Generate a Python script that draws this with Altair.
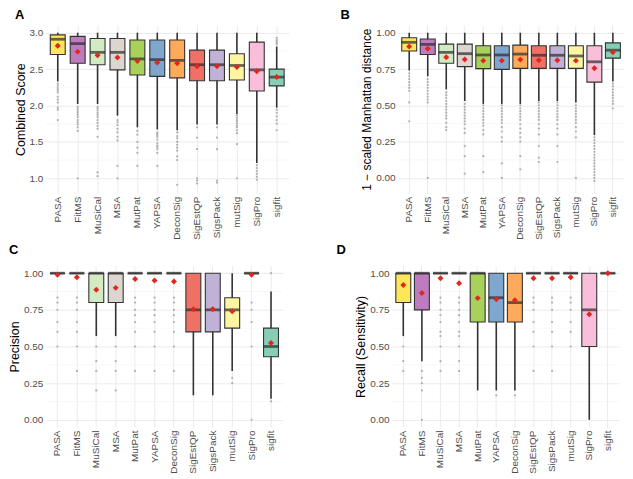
import altair as alt
import pandas as pd

tools = ["PASA", "FitMS", "MuSiCal", "MSA", "MutPat", "YAPSA", "DeconSig",
         "SigEstQP", "SigsPack", "mutSig", "SigPro", "sigfit"]
box_colors = ["#FDE65A", "#BE7BBD", "#D3EBC2", "#DDD5CF", "#A8D15B", "#7FA6CC",
              "#FDAA5B", "#EF7166", "#C0B1D6", "#FDF59F", "#F9BED9", "#86CFB5"]

# ---- Panel A: Combined Score ----
a_low = [2.33, 2.02, 2.02, 1.86, 1.70, 1.67, 1.66, 1.74, 1.74, 1.88, 1.21, 1.97]
a_q1 = [2.70, 2.58, 2.56, 2.49, 2.42, 2.40, 2.38, 2.34, 2.34, 2.35, 2.20, 2.27]
a_med = [2.91, 2.85, 2.73, 2.73, 2.64, 2.63, 2.62, 2.56, 2.56, 2.55, 2.49, 2.39]
a_q3 = [2.97, 2.95, 2.92, 2.92, 2.90, 2.90, 2.90, 2.76, 2.76, 2.71, 2.87, 2.50]
a_high = [3.0, 3.0, 3.0, 3.0, 3.0, 3.0, 3.0, 3.0, 3.0, 3.0, 3.0, 2.81]
a_mean = [2.82, 2.74, 2.69, 2.66, 2.61, 2.59, 2.58, 2.54, 2.54, 2.53, 2.47, 2.39]
a_out = [
    [2.30, 2.27, 2.24, 2.21, 2.18, 2.12, 2.08, 2.04, 1.97, 1.94, 1.80],
    [1.98, 1.95, 1.92, 1.90, 1.87, 1.84, 1.80, 1.77, 1.74, 1.70, 1.65, 1.00],
    [1.98, 1.96, 1.93, 1.90, 1.87, 1.84, 1.80, 1.76, 1.72, 1.68, 1.57, 1.08, 1.03],
    [1.80, 1.77, 1.73, 1.68, 1.63, 1.57, 1.52, 1.17, 1.00],
    [1.65, 1.60, 1.50, 1.42, 1.35, 1.17],
    [1.63, 1.61, 1.59, 1.57, 1.53, 1.48, 1.45, 1.43, 1.40, 1.35, 1.17],
    [1.63, 1.58, 1.55, 1.50, 1.46, 1.42, 1.38, 1.30, 1.25, 0.91],
    [1.70, 1.56, 1.40, 1.00, 0.97, 0.93],
    [1.70, 1.56, 1.40, 0.97, 0.94],
    [1.86, 1.83, 1.80, 1.78, 1.75, 1.72, 1.70, 1.66, 1.62, 1.47, 1.00],
    [1.18, 1.14, 1.10, 1.06, 1.02, 0.98],
    [2.93, 2.90, 2.88, 2.86, 2.84, 1.94, 1.90, 1.85, 1.80, 1.75, 1.66],
]

# ---- Panel B: 1 - scaled Manhattan distance ----
b_low = [0.74, 0.70, 0.61, 0.53, 0.51, 0.51, 0.51, 0.53, 0.53, 0.52, 0.295, 0.665]
b_q1 = [0.874, 0.85, 0.79, 0.767, 0.753, 0.748, 0.755, 0.755, 0.755, 0.755, 0.66, 0.825]
b_med = [0.934, 0.92, 0.865, 0.856, 0.847, 0.847, 0.853, 0.845, 0.845, 0.84, 0.80, 0.88]
b_q3 = [0.966, 0.957, 0.922, 0.922, 0.91, 0.91, 0.915, 0.91, 0.91, 0.91, 0.91, 0.93]
b_high = [1.0] * 12
b_mean = [0.905, 0.89, 0.832, 0.816, 0.808, 0.808, 0.815, 0.81, 0.81, 0.808, 0.755, 0.865]
b_out = [
    [0.72, 0.70, 0.68, 0.66, 0.64, 0.62, 0.60, 0.52, 0.39],
    [0.68, 0.66, 0.64, 0.62, 0.60, 0.58, 0.56, 0.54, 0.52, 0.00],
    [0.59, 0.57, 0.55, 0.53, 0.51, 0.49, 0.47, 0.45, 0.43, 0.41, 0.38, 0.35, 0.33],
    [0.51, 0.49, 0.47, 0.45, 0.43, 0.41, 0.39, 0.37, 0.34, 0.31, 0.22, 0.15, 0.03],
    [0.50, 0.48, 0.46, 0.44, 0.42, 0.40, 0.38, 0.36, 0.33, 0.30, 0.15, 0.04],
    [0.50, 0.48, 0.46, 0.44, 0.42, 0.40, 0.38, 0.35, 0.32, 0.28, 0.25, 0.10, 0.00],
    [0.50, 0.48, 0.46, 0.44, 0.42, 0.40, 0.37, 0.34, 0.31, 0.28, 0.25, 0.15, 0.06],
    [0.52, 0.50, 0.48, 0.46, 0.44, 0.42, 0.40, 0.37, 0.34, 0.30, 0.22, 0.14, 0.11],
    [0.52, 0.50, 0.48, 0.46, 0.44, 0.42, 0.40, 0.37, 0.34, 0.30, 0.22, 0.11],
    [0.50, 0.48, 0.46, 0.44, 0.42, 0.40, 0.38, 0.35, 0.32, 0.28, 0.00],
    [0.28, 0.26, 0.24, 0.22, 0.20, 0.18, 0.16, 0.14, 0.12, 0.10, 0.08, 0.06,
     0.04, 0.02, 0.00, -0.02],
    [0.65, 0.63, 0.61, 0.59, 0.57, 0.55, 0.53, 0.51, 0.48],
]

# ---- Panel C: Precision ----
c_low = [1, 1, 0.571, 0.571, 1, 1, 1, 0.167, 0.167, 0.333, 1, 0.143]
c_q1 = [1, 1, 0.8, 0.8, 1, 1, 1, 0.6, 0.6, 0.625, 1, 0.43]
c_med = [1, 1, 1, 1, 1, 1, 1, 0.75, 0.75, 0.75, 1, 0.5]
c_q3 = [1, 1, 1, 1, 1, 1, 1, 1, 1, 0.833, 1, 0.625]
c_high = [1, 1, 1, 1, 1, 1, 1, 1, 1, 1, 1, 0.875]
c_mean = [0.99, 0.973, 0.887, 0.90, 0.96, 0.95, 0.944, 0.755, 0.755, 0.74, 0.99, 0.524]
c_out = [
    [0.833, 0.8, 0.75, 0.667, 0.6, 0.5],
    [0.833, 0.8, 0.75, 0.667, 0.6, 0.5, 0.333],
    [0.5, 0.4, 0.333, 0.2],
    [0.5, 0.4, 0.333, 0.2],
    [0.833, 0.8, 0.75, 0.714, 0.667, 0.6, 0.5, 0.333],
    [0.833, 0.8, 0.75, 0.714, 0.667, 0.6, 0.5, 0.333],
    [0.833, 0.8, 0.75, 0.714, 0.667, 0.6, 0.5, 0.333],
    [],
    [],
    [0.286, 0.25],
    [0.8, 0.75, 0.667, 0.5, 0.0],
    [1.0, 0.125],
]

# ---- Panel D: Recall (Sensitivity) ----
d_low = [0.571, 0.40, 1, 1, 0.2, 0.2, 0.2, 1, 1, 1, 0.0, 1]
d_q1 = [0.8, 0.75, 1, 1, 0.667, 0.667, 0.667, 1, 1, 1, 0.5, 1]
d_med = [1, 1, 1, 1, 1, 0.833, 0.8, 1, 1, 1, 0.75, 1]
d_q3 = [1] * 12
d_high = [1] * 12
d_mean = [0.92, 0.865, 0.966, 0.932, 0.83, 0.823, 0.815, 0.966, 0.966, 0.973, 0.72, 1.0]
d_out = [
    [0.5, 0.4, 0.333],
    [0.333, 0.286, 0.25, 0.2, 0.0],
    [0.833, 0.8, 0.75, 0.714, 0.667, 0.6, 0.571, 0.5, 0.4, 0.333],
    [0.833, 0.8, 0.75, 0.714, 0.667, 0.6, 0.571, 0.5, 0.4, 0.333],
    [],
    [0.167],
    [0.167],
    [0.833, 0.8, 0.75, 0.667, 0.6, 0.5, 0.333],
    [0.833, 0.8, 0.75, 0.667, 0.6, 0.5, 0.333],
    [0.833, 0.8, 0.75, 0.667, 0.6, 0.5],
    [],
    [],
]

FONT = "Liberation Sans"


def panel(letter, title, tsize, domain, major, minor, fmt, low, q1, med, q3, high,
          mean, outs, width, height, lx, ly):
    stats = pd.DataFrame({"tool": tools, "low": low, "q1": q1, "med": med,
                          "q3": q3, "high": high, "mean": mean})
    outdf = pd.DataFrame([{"tool": t, "v": v}
                          for t, vals in zip(tools, outs) for v in vals])
    minor_df = pd.DataFrame({"v": minor})

    xscale = alt.Scale(domain=tools, paddingInner=0, paddingOuter=0.1)
    xaxis = alt.Axis(title=None, labelAngle=-90, grid=True, bandPosition=0.5,
                     ticks=False, domain=False, labelFontSize=10,
                     labelColor="#4D4D4D", labelPadding=3, gridColor="#EBEBEB",
                     labelFont=FONT, labelOverlap=False)
    yscale = alt.Scale(domain=domain, nice=False, zero=False)
    yaxis = alt.Axis(title=title, values=major, tickCount=len(major), format=fmt,
                     grid=True, gridColor="#EBEBEB", ticks=False, domain=False,
                     labelFontSize=10, labelColor="#4D4D4D", labelFont=FONT,
                     titleFontSize=tsize, titleFontWeight="normal",
                     titleColor="#000000", titleFont=FONT, labelPadding=3,
                     titlePadding=2, labelOverlap=False, labelSeparation=0)
    x = alt.X("tool:N", sort=tools, scale=xscale, axis=xaxis)

    minor_layer = alt.Chart(minor_df).mark_rule(
        color="#F3F3F3", strokeWidth=0.6).encode(
        y=alt.Y("v:Q", scale=yscale, axis=yaxis))
    base = alt.Chart(stats)
    whisk = base.mark_rule(color="#333333", strokeWidth=1.6).encode(
        x=x, y=alt.Y("low:Q", scale=yscale), y2="high:Q")
    box = base.mark_bar(size=15, stroke="#333333", strokeWidth=1.1).encode(
        x=x, y=alt.Y("q1:Q", scale=yscale), y2="q3:Q",
        color=alt.Color("tool:N", scale=alt.Scale(domain=tools, range=box_colors),
                        legend=None))
    medt = base.mark_tick(size=15, thickness=2.8, color="#2B2B2B").encode(
        x=x, y=alt.Y("med:Q", scale=yscale))
    outl = alt.Chart(outdf).mark_circle(size=5, color="#A8A8A8", opacity=0.9).encode(
        x=x, y=alt.Y("v:Q", scale=yscale))
    meanp = base.mark_point(shape="diamond", filled=True, size=36,
                            color="#E0261E", opacity=1).encode(
        x=x, y=alt.Y("mean:Q", scale=yscale))
    tag = alt.Chart(pd.DataFrame({"t": [letter]})).mark_text(
        align="left", baseline="top", fontSize=13, fontWeight="bold", font=FONT,
        color="#000000").encode(text="t:N", x=alt.value(lx), y=alt.value(ly))
    return alt.layer(minor_layer, whisk, box, medt, outl, meanp, tag).properties(
        width=width, height=height)


pA = panel("A", "Combined Score", 12.5, [0.795, 3.105], [1.0, 1.5, 2.0, 2.5, 3.0],
           [1.25, 1.75, 2.25, 2.75], ".1f",
           a_low, a_q1, a_med, a_q3, a_high, a_mean, a_out, 244, 169, -31, -16)
pB = panel("B", "1 \u2212 scaled Manhattan distance", 12, [-0.105, 1.053],
           [0, 0.25, 0.5, 0.75, 1.0], [0.125, 0.375, 0.625, 0.875], ".2f",
           b_low, b_q1, b_med, b_q3, b_high, b_mean, b_out, 227, 169, -58, -16)
pC = panel("C", "Precision", 12.5, [-0.05, 1.05], [0, 0.25, 0.5, 0.75, 1.0],
           [0.125, 0.375, 0.625, 0.875], ".2f",
           c_low, c_q1, c_med, c_q3, c_high, c_mean, c_out, 238, 162, -37, -22)
pD = panel("D", "Recall (Sensitivity)", 12.5, [-0.05, 1.05], [0, 0.25, 0.5, 0.75, 1.0],
           [0.125, 0.375, 0.625, 0.875], ".2f",
           d_low, d_q1, d_med, d_q3, d_high, d_mean, d_out, 228, 162, -56, -22)

row1 = alt.hconcat(pA, pB, spacing=51)
row2 = alt.hconcat(pC, pD, spacing=53)
chart = alt.vconcat(row1, row2, spacing=4).properties(
    padding={"left": 0, "top": 0, "right": 0, "bottom": 0}
).configure(font=FONT, background="white", view=alt.ViewConfig(stroke=None))

chart.save("out.html", embed_options={"renderer": "svg", "actions": False})
